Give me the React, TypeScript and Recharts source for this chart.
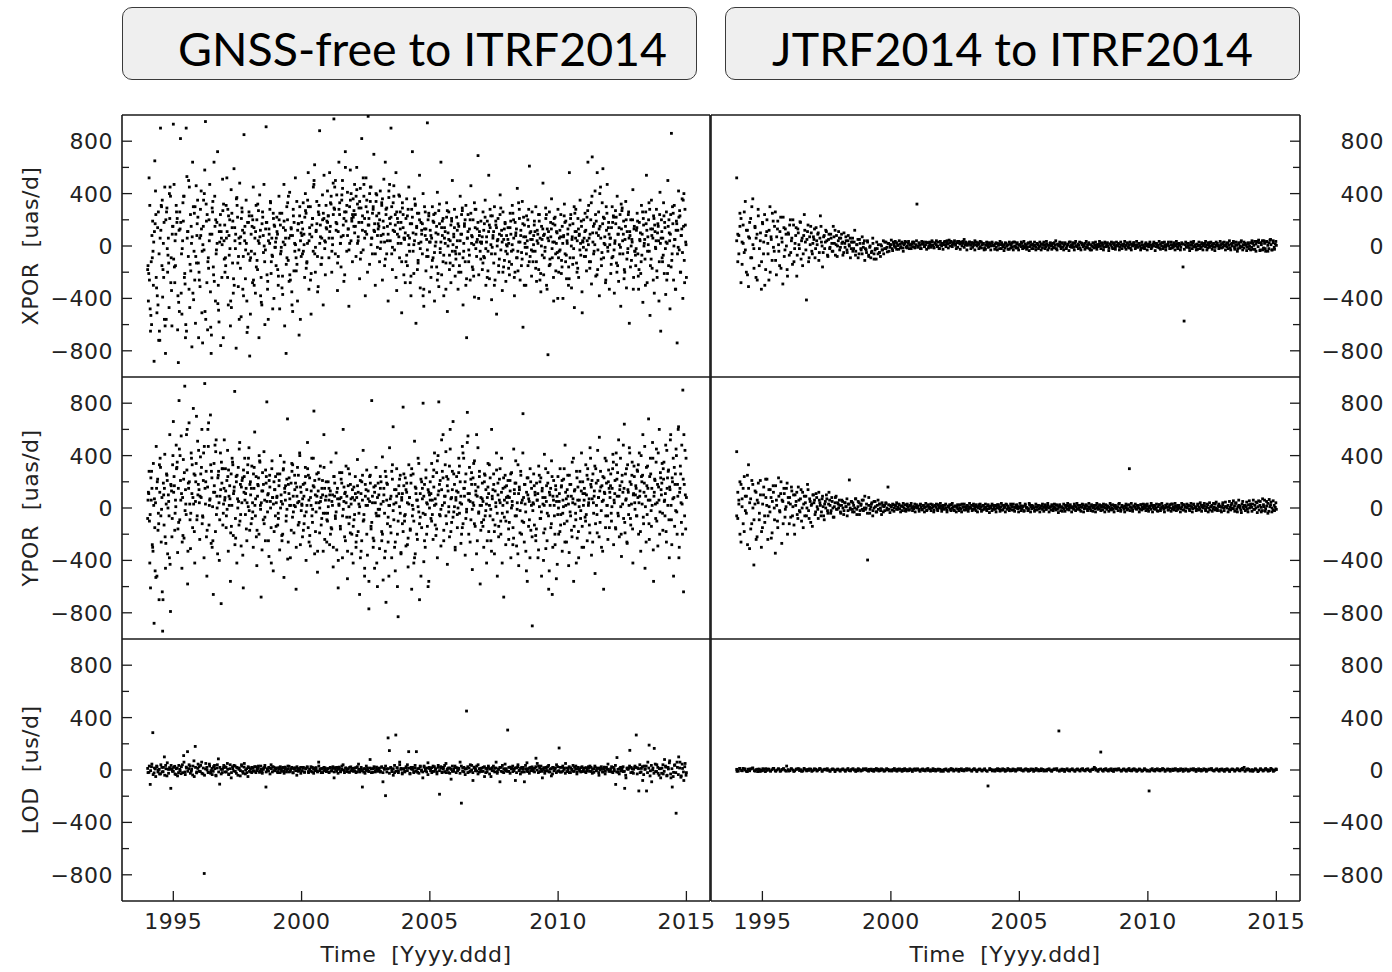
import { ScatterChart, Scatter, XAxis, YAxis, ReferenceLine } from 'recharts';

// each value list is sampled on evenly spaced epochs between the two dates of its span
const MAIN_SPAN: [number, number] = [1994.0, 2015.0];
const OFFSET_SPAN: [number, number] = [1994.014, 2014.986];
const EARLY_SPAN: [number, number] = [1994.0, 1998.5];
const LATE_SPAN: [number, number] = [1998.52, 2014.98];

const xTicks = [1995, 2000, 2005, 2010, 2015];
const yTicks = [-800, -600, -400, -200, 0, 200, 400, 600, 800];
const xDomain: [number, number] = [1993.0, 2015.92];
const yDomain: [number, number] = [-1000, 1000];

const panelTitles = ['GNSS-free to ITRF2014', 'JTRF2014 to ITRF2014'];
const rowLabels = ['XPOR  [uas/d]', 'YPOR  [uas/d]', 'LOD  [us/d]'];
const timeLabel = 'Time  [Yyyy.ddd]';

// GNSS-free to ITRF2014, XPOR rate [uas/d], one line per year
const gfXpor = [
  -180, -420, 520, 310, -650, -120, 80, 190, -300, -880, 650, 420, -240, -510, 140, 260, -60, -720, 900, 310, -150, -390, 20, 180, 450, -820, -560, 290, -200, 60, -470, 210, 380, -90, -610, 150,
  930, 470, -280, -150, 310, 180, -640, -890, 120, 260, 820, -360, -520, 40, 190, 380, -210, -700, 900, 530, 110, -80, -330, -470, 240, 150, -770, 640, 300, -40, -260, -590, 460, 80, 350, -130,
  -200, 60, 280, 420, -510, -740, 150, -30, 580, 950, 320, -280, -640, -90, 200, 470, -350, -820, 90, 260, -160, 640, 380, -420, -60, 180, 720, -300, -580, 30, 240, 110, -240, 510, -700, 40,
  160, -90, 310, 520, -240, -450, 80, 200, -610, 430, 250, -130, -360, 590, 140, -20, -780, 370, 220, -310, 60, 480, -170, -540, 290, 120, -80, 850, 40, -250, 350, -420, 180, -60, 260, -840,
  -520, 90, 230, -280, 450, 140, -60, -360, 310, 200, -180, 40, -700, 390, 120, -240, -450, 260, 80, 470, -120, -30, 910, 180, -330, -560, 130, 20, 340, -210, 60, -80, 250, -400, 150, -10,
  -150, 220, 90, -300, 380, -480, 160, -40, 250, -230, 30, 470, -610, 120, -820, 300, 200, -110, 60, 410, -260, 140, -350, 80, 280, -190, 20, 520, -90, 340, -420, 170, -30, 230, -560, 100,
  180, -60, 330, 90, -240, 400, 250, -130, 20, 560, -330, 140, 300, -520, 70, 210, -40, 470, 620, -200, 110, 340, -80, -310, 240, 880, 160, -140, 60, 390, -450, 210, 40, -220, 310, 130,
  420, 230, -90, 560, 150, 320, -200, 60, 480, 970, 280, -60, 180, 390, -340, 110, 640, 240, 20, -160, 350, 500, 80, -270, 260, 720, 190, -40, 410, 130, -460, 300, 580, 40, 210, -120,
  360, 150, 470, 240, -80, 600, 320, 40, 180, -250, 440, 290, 820, 120, -30, 380, 210, -380, 520, 90, 260, 990, 160, -140, 340, 450, 60, -60, 280, 700, 110, -300, 400, 230, -10, 170,
  250, -120, 420, 80, 330, -260, 190, 510, 30, 640, 280, -60, 150, -420, 370, 210, 40, 900, 300, -180, 120, 460, -30, 240, 560, -340, 90, 180, 390, -90, 260, 20, -510, 330, 140, -220,
  60, -280, 210, 360, -150, 80, 450, -40, 170, -380, 280, 720, 100, -210, 40, 320, -590, 150, 250, -110, 20, 540, -320, 180, 90, -60, 400, -460, 130, 260, -190, 50, 940, -80, 230, -350,
  120, -240, 60, 300, -90, 180, -420, 250, 30, -160, 410, 90, -310, 170, -50, 640, -220, 80, 210, -380, 140, 20, -130, 330, -500, 100, 260, -70, 40, -280, 190, 500, -150, 70, 280, -40,
  -100, 220, 40, -330, 150, -60, 380, -200, 90, 270, -450, 20, 170, -120, 310, -700, 60, 240, -30, 130, -260, 460, 80, -160, 200, 10, -390, 140, 280, -80, 50, 690, -220, 110, -40, 190,
  30, -180, 260, 120, -90, 350, -300, 70, 190, -40, 540, -250, 140, 10, -410, 230, 80, -130, 300, -60, 160, -520, 40, 210, -200, 90, 390, -30, 120, -340, 260, 50, -110, 170, -270, 80,
  -60, 140, 20, -220, 250, 90, -140, 310, -30, 60, -380, 180, 100, -90, 440, -190, 30, 210, -260, 120, -50, 340, -620, 70, 160, -10, -300, 230, 40, -150, 280, 610, -80, 110, -230, 50,
  -120, 80, 190, -40, 300, -270, 120, 20, -180, 240, 60, -350, 150, -70, 480, -220, 90, -10, 210, -300, 130, -830, 40, 260, -140, 70, 360, -90, 170, -420, 30, 220, -190, 110, -50, 280,
  -200, 60, -30, 240, -110, 150, -400, 80, 320, -60, 190, -250, 20, 130, -160, 560, -90, 240, -320, 70, 170, -20, -470, 110, 280, -130, 40, 210, -240, 90, 350, -70, 150, -510, 30, 200,
  -80, 250, 120, -190, 40, 640, 310, -120, 90, 200, -290, 680, 30, -60, 170, 420, -230, 100, 560, -30, 260, -380, 150, 60, -150, 330, 590, -90, 210, 10, -260, 120, 470, -40, 180, -330,
  60, -210, 140, 300, -80, 220, -360, 40, 170, -130, 380, 90, -270, 10, 240, -460, 130, 290, -60, 190, -180, 50, 340, -320, 110, -20, 260, -590, 80, 200, -110, 30, 430, -240, 150, -40,
  -150, 120, 250, -60, -330, 180, 40, -210, 310, 90, -430, 160, 20, -100, 260, 540, -280, 70, 200, -40, -530, 130, 350, -170, 60, 230, -360, 110, -20, 280, -240, 170, 40, -120, 410, -650,
  200, -90, 60, 330, -210, 140, -370, 260, 20, 500, -150, 100, -480, 240, 860, -60, 170, -260, 310, 50, -330, 190, -740, 120, 420, -30, 230, -200, 80, 360, -400, 150, -110, 280, 30, -240,
];

// GNSS-free to ITRF2014, XPOR rate [uas/d], the in-between epochs
const gfXporB = [
  -150, -210, -260, -480, -530, -600, -90, -40, 30, 110, 170, 240, -320, -380, -450, -720, -650, 60, 120, 300, 350, -180, -240, -560, -610, 200, 260, -20, -70, -130, 400, 450, -280, -340, 90, 150,
  -100, -160, 40, 90, 260, 210, -380, -430, -500, 130, 180, -60, -20, 330, 380, -240, -290, -600, -650, 60, 110, 500, 450, -140, -190, 20, 70, -360, -410, 250, 300, -80, -130, 170, 220, -700,
  -260, -310, 80, 130, -40, 10, 350, 400, -500, -560, 190, 240, -120, -170, 40, 90, -620, -680, 290, 340, -220, -270, 150, 200, -30, 20, -440, -490, 110, 160, -760, 60, 10, 270, 320, -100,
  -200, -150, 60, 110, 280, 230, -70, -20, -420, -470, 140, 190, -250, -300, 40, 90, 360, 310, -130, -80, -560, 20, 70, 210, 260, -330, -380, 100, 150, -30, 20, -660, -620, 180, 230, -110,
  -90, -40, 150, 200, -260, -300, 60, 110, -160, -110, 320, 270, 20, 70, -380, -430, 170, 220, -50, 0, -600, 130, 180, -220, -270, 40, 90, 280, 330, -120, -70, -480, 210, 160, -10, 30,
  60, 110, -180, -230, 200, 250, -60, -10, -320, -370, 140, 190, 10, 60, -140, -90, 330, 380, -270, -220, 80, 130, -450, -500, 230, 180, -40, 10, -190, -140, 120, 170, -680, 300, 40, -80,
  80, 130, -40, 10, 220, 270, -170, -120, 350, 300, 40, 90, -260, -210, 160, 210, 450, 500, -60, -10, 120, 170, -350, 260, 310, 20, 70, -140, -90, 200, 250, 540, -20, 30, 140, 190,
  180, 230, 60, 110, 330, 380, -40, 10, 240, 290, 450, 500, 120, 170, -130, -80, 280, 330, 20, 70, 390, 440, 160, 210, -220, 600, 260, 310, 80, 130, -30, 20, 350, 400, 190, 240,
  220, 270, 100, 150, 380, 430, 20, 70, 290, 340, -100, -50, 180, 230, 520, 470, 60, 110, 300, 350, -200, 160, 210, 400, 450, 10, 60, 250, 300, 120, 170, -60, 340, 390, 80, 130,
  150, 200, -20, 30, 310, 360, 90, 140, -150, -100, 240, 290, 40, 90, 420, 470, 170, 220, -60, -10, 330, 380, 110, 160, -240, 260, 210, 20, 70, 380, 130, 180, -120, 290, 240, 60,
  50, 100, -120, -70, 230, 280, 10, 60, -280, -230, 170, 220, -40, 10, 360, 310, 90, 140, -180, -130, 250, 200, -20, 30, 120, 170, -380, -330, 300, 80, 130, -80, -30, 200, 250, 30,
  30, 80, -160, -110, 190, 240, -50, 0, 100, 150, -260, -210, 270, 320, -20, 30, 140, 190, -120, -70, 60, 110, -330, 220, 270, 0, 50, -180, -130, 160, 210, -40, 10, 90, 140, -230,
  -60, -10, 120, 170, -200, -150, 40, 90, 240, 290, -90, -40, 150, 200, -300, -250, 60, 110, -120, -70, 200, 250, 20, 70, -180, -230, 330, 280, -20, 30, 130, 180, -400, 80, 30, -100,
  20, 70, -130, -80, 170, 220, -20, 30, -240, -190, 110, 160, 280, 230, -60, -10, 60, 110, -300, -260, 190, 140, 0, 50, -150, -100, 240, 290, 80, 30, -200, -160, 130, 180, -40, 10,
  0, 50, -170, -120, 140, 190, -40, 10, 250, 200, -240, -200, 80, 130, -90, -40, 330, 280, 30, 80, -150, -100, 170, 220, -300, 20, 70, -60, -10, 200, 150, -120, 100, 50, -30, 260,
  -40, 10, 160, 110, -170, -120, 40, 90, 240, 190, -260, -210, 0, 50, 130, 80, -90, -40, 290, 240, -330, 60, 110, -150, -100, 180, 130, -20, 30, -240, 210, 160, -60, 20, 100, -400,
  -90, -40, 120, 70, -210, -160, 20, 70, 230, 180, -120, -70, 40, 90, -300, -250, 160, 210, 0, 50, -140, -90, 300, 250, 60, 110, -200, -170, 130, 80, -30, 20, 190, -350, 40, -10,
  60, 110, -80, -30, 220, 270, 10, 60, -170, -120, 330, 380, 100, 150, -40, 10, 240, 190, -220, -180, 80, 130, 400, 450, -100, -50, 170, 220, 20, 70, -280, 300, 250, -10, 140, 90,
  10, 60, -140, -90, 180, 230, -30, 20, 270, 220, -200, -150, 90, 140, -60, -10, 320, 270, 40, 90, -250, -200, 150, 200, -100, -50, 240, 60, 110, -160, 0, 50, 200, -330, 130, -40,
  -70, -20, 140, 190, -230, -180, 50, 100, -120, -70, 260, 210, 0, 50, -300, 170, 120, -40, 10, 330, 280, -150, -100, 80, 130, -260, 210, 160, -10, 40, -190, 100, 150, -420, 240, 20,
  60, 110, -120, -70, 230, 180, -20, 30, -260, -210, 150, 200, 40, 90, -160, -110, 300, 250, 0, 50, -330, 120, 170, -60, -10, 220, 270, -200, 80, 130, -50, 350, 400, -280, 160, 10,
];

// GNSS-free to ITRF2014, YPOR rate [uas/d]
const gfYpor = [
  -80, 120, 280, -420, -610, 60, 150, -300, 340, -880, -150, 40, 470, -520, 220, -40, -700, 120, 310, -260, 80, -940, 190, -130, 410, -460, 30, 250, -350, 100, -60, 560, -790, 170, -220, 330,
  660, 240, -170, 60, 480, 310, -340, 150, 820, -90, 210, 550, -460, 80, 370, -230, 930, 140, -50, 290, -580, 190, 650, 30, -310, 420, 110, -150, 760, 260, -420, 50, 340, -90, 510, 180,
  140, -240, 390, 80, 600, -60, 210, -380, 950, 30, 280, -520, 160, 470, -130, 60, 710, -270, 230, 10, -660, 340, 120, -180, 520, 90, -350, 250, 40, -90, 420, -730, 190, 300, -40, 150,
  60, 300, -150, 210, 440, -330, 90, 170, -560, 260, 20, 350, -210, 130, 890, -80, 240, -420, 70, 310, -130, 500, 180, -290, 40, 230, -610, 120, 380, -50, 150, -250, 270, 10, 460, -170,
  200, -120, 320, 40, -300, 150, 580, -60, 240, -440, 90, 170, -200, 360, 20, -680, 130, 270, -90, 430, 60, -250, 190, 810, -30, 110, -370, 250, 50, -150, 300, 80, -480, 200, 140, -60,
  -140, 80, 260, -40, 170, -320, 400, 100, -210, 30, 290, -530, 150, 60, -100, 220, 680, -260, 110, 20, -380, 190, 340, -70, 90, -190, 250, 10, -620, 160, 310, -130, 50, 420, -280, 120,
  30, -220, 180, 90, -60, 310, -400, 140, 500, -150, 60, 230, -290, 20, 380, -110, 170, 740, -350, 100, -30, 260, -490, 130, 40, -190, 320, 80, -80, 210, -330, 560, 150, -40, 90, -260,
  -100, 200, 60, -280, 130, 350, -160, 20, -450, 240, 90, -60, 420, -320, 150, -610, 30, 270, -140, 80, 190, -380, 600, 50, -220, 120, 320, -70, -540, 170, 10, 260, -190, 70, -350, 140,
  -420, 160, -50, 240, -300, 80, 370, -180, 30, -660, 210, 110, -250, 60, 440, -90, -520, 180, 20, 290, -360, 130, -770, 50, 250, -140, 820, 90, -230, 160, -460, 40, 310, -60, -600, 190,
  100, -310, 240, 30, -180, 390, -550, 150, -40, 280, -720, 60, 180, -260, 20, 460, -140, 90, -380, 220, 620, -90, 140, -480, 40, 300, -200, -830, 110, 10, 250, -340, 80, -120, 770, 170,
  -60, 230, -290, 120, 40, -450, 330, 80, -170, 190, -620, 20, 260, -100, 510, -350, 150, 60, -240, 380, -30, -700, 110, 220, -150, 70, 800, -410, 180, -50, 290, -200, 30, 140, -560, 100,
  200, -80, 340, 60, -240, 160, 420, -130, 30, 270, -380, 100, 810, -50, 210, -290, 140, 20, 560, -170, 90, 330, -60, 240, -430, 130, 10, -220, 450, 70, -110, 280, 660, -30, 180, -320,
  60, 240, -150, 120, 380, -40, 200, -270, 30, 470, -120, 150, 90, -360, 260, -10, 730, 110, -200, 310, 50, -90, 180, -470, 230, 20, 360, -140, 100, 560, -250, 160, -30, 280, -580, 80,
  -110, 190, 50, -300, 260, -60, 140, -420, 80, 340, -180, 20, 230, -250, 600, 70, -90, 180, -350, 130, 10, 290, -520, 100, -140, 220, 40, -200, 380, -40, 150, -680, 60, 250, -100, 170,
  -30, 210, -240, 80, 130, -380, 270, 20, -150, 450, 110, -60, 190, -290, 40, 330, -440, 140, -20, 250, -200, 60, 720, -110, 180, 30, -330, 120, -560, 230, 70, -90, 300, -170, 150, -900,
  40, 260, -130, 100, -250, 190, 60, -380, 320, 10, -80, 230, -520, 150, 30, -190, 410, 80, -310, 170, -40, 270, -620, 120, 20, -150, 360, -660, 90, 210, -60, -280, 140, 50, -430, 240,
  -200, 110, 300, -50, 170, -330, 60, 220, -120, 480, 20, -260, 140, 90, -440, 250, -30, 180, -170, 350, 70, -560, 130, 30, -90, 280, -230, 160, -380, 60, 200, -20, 420, -140, 110, -300,
  150, -70, 330, 100, -250, 220, 40, -130, 460, 180, -360, 70, 260, -40, 130, -500, 300, 20, -190, 210, 80, 540, -110, 160, -300, 50, 240, -620, 120, 380, -60, 190, 20, -240, 290, -150,
  80, 260, -100, 150, 410, -280, 40, 210, -160, 330, 90, -40, 520, -220, 170, 10, -370, 250, 120, -80, 640, -190, 60, 300, -270, 140, -50, 460, 200, -130, 30, 350, -420, 110, 240, -10,
  170, -60, 290, 80, -200, 420, 130, -330, 240, 30, 560, -120, 190, -460, 90, 310, -50, 150, 680, -240, 60, 260, -140, 20, 380, -560, 120, 210, -80, 450, 40, -290, 160, 600, -30, 230,
  100, 340, -170, 220, 50, -60, 480, -260, 150, 20, 290, -380, 140, 560, -90, 230, 70, -520, 310, 180, -20, 400, -200, 90, 620, -300, 150, 260, -110, 30, 900, -640, 180, 440, -160, 80,
];

// GNSS-free to ITRF2014, YPOR rate [uas/d], the in-between epochs
const gfYporB = [
  60, 110, -100, -50, 230, 280, -280, -330, 20, 70, -480, -530, 150, 200, -170, -120, 330, 380, -60, -10, -640, -700, 100, 150, -220, -270, 260, 210, 0, 50, -380, -430, 180, 130, -80, 400,
  120, 170, -40, 10, 300, 350, -160, -110, 450, 400, 60, 110, -260, -210, 220, 270, -20, 30, 560, 600, -330, 150, 200, -90, -40, 380, 330, 80, 30, -180, 250, 200, 700, -60, 100, 440,
  40, 90, 260, 310, -120, -70, 420, 470, 150, 200, -220, -170, 600, 650, 20, 70, 330, 280, -300, -250, 120, 170, 480, 430, -50, 0, 230, 280, -400, 90, 140, 350, 300, -130, 30, 520,
  80, 130, -60, -10, 240, 290, 20, 70, -190, -140, 380, 330, 110, 160, -280, -230, 200, 250, 0, 50, 450, -100, -50, 160, 210, -360, 290, 240, 60, 110, -160, 40, 330, 380, -20, 180,
  100, 150, -80, -30, 260, 310, 20, 70, -220, -170, 180, 230, 400, 350, -10, 40, -320, 130, 180, -120, -70, 290, 240, 50, 100, -250, 210, 160, 0, -420, 360, 80, 30, -180, 140, 240,
  40, 90, -130, -80, 210, 260, 0, 50, -250, -200, 300, 350, 120, 170, -60, -10, -390, 180, 230, 70, 20, -170, 280, 330, -30, 20, 140, 190, -300, 90, 40, 250, -110, 400, 160, -20,
  20, 70, -170, -120, 190, 240, -30, 20, 300, 250, -260, -210, 80, 130, -60, -10, 380, 160, 210, -180, 40, 90, -330, 270, 220, 0, 50, -130, 150, 100, -40, 310, -240, 60, 200, -90,
  -40, 10, 150, 100, -200, -150, 50, 100, -300, 240, 190, -80, -30, 120, 70, -400, 20, 70, -160, 220, 270, -60, -10, 160, 110, -250, 40, 90, -330, 300, -120, -70, 180, 30, -200, 80,
  -140, -90, 60, 110, -260, -210, 170, 120, -40, 10, -380, -330, 200, 250, -100, -50, -460, 90, 140, -200, 20, 70, -560, 240, 190, -160, -110, 40, -300, -250, 120, 170, -40, -420, 80, -10,
  -60, -10, 150, 200, -250, -200, 50, 100, -380, -330, 240, 190, -120, -70, -520, 20, 70, -190, 280, 330, -20, 30, -300, -260, 140, 90, -600, -100, 170, 220, -40, -350, 60, 110, -180, 260,
  -100, -50, 140, 190, -280, -230, 30, 80, -160, 250, 300, -60, -10, -420, -380, 160, 110, -200, 60, 10, 340, -120, -70, -520, 200, 150, -40, 90, -250, -300, 230, 40, -140, -600, 120, 0,
  60, 110, -100, -50, 240, 290, 20, 70, -210, -160, 360, 400, 130, 180, -60, -10, 520, 280, 230, -250, 40, 90, 430, -120, 170, 220, -30, 320, 600, -180, 80, 140, -70, 260, 10, -300,
  80, 130, -50, 0, 270, 320, 40, 90, -200, -150, 420, 380, 150, 200, -80, -30, 500, 550, 60, 110, -260, 220, 270, -10, 40, 340, -120, 180, 130, -350, 90, 460, -40, 240, 20, -170,
  20, 70, -140, -90, 200, 250, -20, 30, -250, 160, 110, 330, -60, -10, -330, 90, 140, 260, -180, -130, 40, 420, -40, 190, -220, 60, 300, -100, 120, -420, 20, 230, -70, 160, -280, 80,
  40, 90, -160, -110, 210, 260, 0, 50, -280, -230, 140, 190, 360, -60, -10, -350, 110, 160, -190, 280, 40, -100, 420, 80, -260, 180, -30, -480, 230, 100, -140, 50, -380, 200, 20, -220,
  -20, 30, 170, 120, -210, -160, 60, 110, -320, 250, 200, -80, -30, 130, 80, -400, 20, -160, 300, 50, -250, 190, -60, -480, 100, 150, -120, 240, -300, 60, 20, -200, 170, -540, 90, -50,
  0, 50, -180, -130, 160, 210, -40, 10, 300, -260, 120, 70, -100, 250, 30, -340, 180, -60, 90, -220, 40, 380, -140, 140, -40, -420, 230, 60, -180, 10, 280, -80, 130, -300, 200, 20,
  60, 110, -100, -50, 250, 300, 20, 70, -190, 380, 160, 210, -260, 40, 90, 320, -120, 190, -50, 440, 80, -220, 130, 280, -20, 170, -330, 60, 230, 110, -150, 360, 20, -60, 200, 150,
  120, 170, -40, 10, 300, 350, 60, 110, -150, 420, 220, 270, -60, 90, 140, 380, -200, 200, 30, 480, 150, -110, 260, 70, -260, 330, 120, 20, 420, -80, 180, 250, -160, 100, 320, 40,
  100, 150, -60, 280, 330, 40, 90, -180, 400, 200, 250, -70, 120, 470, 10, -260, 170, 320, 60, -120, 240, 380, -20, 150, 500, -320, 90, 220, 30, 350, -100, 180, 420, 60, -200, 270,
  140, 190, -40, 300, 350, 60, 110, -180, 440, 230, 280, -90, 160, 520, 20, -280, 200, 380, 80, -140, 260, 450, -30, 180, 600, -380, 120, 320, 40, 480, -200, 220, 560, -60, 100, 380,
];

// GNSS-free to ITRF2014, LOD rate [us/d]
const gfLod = [
  12, -18, -110, 25, 285, -22, 8, 30, -15, 5, -30, 20, -12, 100, 35, -45, 5, 18, -140, 10,
  -10, 28, -35, 15, -20, 5, -28, 40, 110, -15, 22, 140, 10, 30, -8, -38, 70, 180, -22, 12,
  25, -12, 60, -30, -790, 8, 20, -18, 45, -25, 12, -10, 35, -40, 15, 85, -108, 5, -20, 18,
  -15, 20, 50, -35, 10, -60, 25, -8, 30, -25, 15, 5, -45, 40, -12, 22, -30, 10, -50, 18,
  8, -20, 15, -10, 25, -5, 12, -18, 30, -12, 5, 20, -130, 10, -8, 15, 40, -15, 22, -6,
  10, -12, 18, -20, 5, 15, -8, 22, -15, 8, 28, -10, 12, -22, 6, 16, -40, 10, -5, 20,
  -8, 14, -18, 10, 20, -12, 6, 25, -15, 10, -5, 18, -10, 60, 8, -20, 12, -6, 16, -12,
  10, -15, 20, -8, 12, -60, 18, -10, 6, 22, -14, 8, 40, -5, 15, -12, 10, -18, 24, -6,
  12, -8, 18, -14, 45, -10, 6, -130, -16, 10, -4, 15, -12, 80, 8, -18, 14, -6, 22, -10,
  5, -16, 20, -90, 12, -196, 8, 245, 148, 15, -12, 10, -20, 267, 18, -6, 60, 12, -22, 8,
  -10, 15, 40, 140, -25, 8, 20, -12, 14, 140, -18, 10, 30, -8, -60, 22, 6, -14, 55, 12,
  -6, 18, -10, 25, 10, -15, 35, -185, 14, -20, 20, -12, 50, 8, -20, 15, -70, -10, 6, 30,
  18, -5, 12, 60, -253, 15, -14, 8, 450, -20, 15, -10, 35, -80, 22, 10, -8, 40, -16, 12,
  -10, 20, -50, 12, -15, 30, 8, -50, 18, -6, 14, 60, -12, 8, -90, 20, -14, 10, 45, -8,
  305, -10, 22, 15, -12, 8, -80, 18, 40, -6, 12, -16, 20, -90, 10, 55, -12, 16, -5, 24,
  -8, 14, 90, 50, 30, -12, 6, -60, 18, -10, 12, 25, -14, 8, -45, 20, -6, 16, 40, -10,
  168, -16, 20, -8, 14, 50, -12, 8, -20, 16, 6, -10, 22, 30, -14, 10, -6, 18, -12, 12,
  -12, 18, -8, 14, 30, -10, 6, -18, 20, -6, 12, -40, 16, 8, -14, 22, -10, 10, 45, -6,
  8, -14, 20, -6, -110, 95, -18, 10, -8, 16, -12, -140, -60, 8, 14, 150, 20, -16, 6, 30,
  267, 16, -160, -20, 12, -80, 30, 8, -160, 60, 190, -6, -90, 15, 165, -12, 40, -25, 10, -60,
  14, -30, 80, 22, -40, 8, 70, -60, -130, -18, 40, -330, 20, 100, 60, -45, 12, -80, 50, -20,
];

// GNSS-free to ITRF2014, LOD rate [us/d], the in-between epochs
const gfLodB = [
  -20, 30, -5, 45, -35, 15, -50, 25, 0, -30, 40, -15, 20, -40, 10, 55, -25, 5, 35, -10,
  20, -30, 10, -45, 35, -5, 25, -20, 60, -35, 15, -10, 40, -25, 5, 30, -50, 20, -15, 45,
  -10, 35, -25, 15, -40, 50, 0, -20, 30, -5, -35, 25, 10, -45, 40, -15, 20, -30, 5, 35,
  25, -15, 5, -30, 40, -20, 10, 35, -10, 20, -40, 15, -5, 30, -25, 50, 0, -20, 25, -10,
  -15, 20, -5, 25, -20, 10, 30, -10, 5, -25, 15, 35, -15, 0, 20, -30, 10, 25, -5, 15,
  15, -20, 5, 25, -10, 20, -25, 10, 0, 30, -15, 5, 20, -20, 15, -5, 25, -10, 10, -25,
  -5, 20, -15, 10, 25, -20, 5, -10, 20, -25, 15, 0, -15, 30, -5, 10, -20, 20, 5, -10,
  10, -20, 15, -5, 25, -15, 5, 20, -25, 10, -10, 30, 0, -20, 15, 5, -15, 20, -5, 10,
  -10, 15, -20, 25, 5, -15, 20, -5, 10, -25, 30, 0, -10, 15, -20, 10, 25, -15, 5, -5,
  15, -10, 25, -20, 5, 30, -15, 10, -25, 20, 0, -40, 35, -10, 15, -20, 40, 5, -30, 10,
  -15, 25, -5, 15, -30, 20, 5, -20, 35, -10, 10, -25, 25, 0, -15, 30, -5, 15, -35, 20,
  10, -20, 30, -10, 5, -30, 20, -5, 25, -15, 10, 35, -20, 0, 15, -25, 5, 30, -10, 20,
  -20, 15, 5, -25, 30, -10, 20, -35, 10, 25, -15, 40, 0, -20, 15, -5, 30, -30, 10, -10,
  15, -10, 25, -20, 5, 20, -30, 10, -5, 30, -15, 15, -25, 5, 20, -10, 35, -20, 0, 10,
  -10, 20, -25, 10, 30, -5, 15, -20, 25, 0, -30, 20, 5, -15, 35, -10, 10, -25, 20, 5,
  10, -15, 25, 0, -20, 15, 30, -10, 5, -25, 20, -5, 35, -15, 10, -30, 15, 5, -20, 25,
  -5, 20, -15, 30, 5, -25, 15, -10, 25, -20, 0, 35, -10, 10, -30, 20, 5, -15, 25, -5,
  15, -20, 5, 25, -10, 20, -25, 10, 30, -5, 15, -20, 0, 25, -15, 10, -30, 20, 5, -10,
  -10, 25, -20, 10, 35, -15, 5, -30, 20, 0, 25, -10, -40, 15, 5, 30, -20, 10, -25, 20,
  20, -30, 10, 40, -15, 25, -35, 5, 30, -20, 15, -45, 35, 0, -25, 45, -10, 20, -40, 10,
  -25, 40, -10, 30, -45, 20, 55, -30, 10, -50, 35, -20, 60, -35, 15, -55, 45, -15, 25, -40,
];

// JTRF2014 to ITRF2014, XPOR rate [uas/d]
const jtXpor = [
  520, -120, 80, 250, -280, 30, 160, -50, 340, -200, 120, -310, 60, 210, -90, 360, -20, 150, -240, 90, 280, -150, 40, -330,
  180, -60, 240, -180, 110, 20, -260, 300, 70, -110, 190, -40, 260, -220, 130, 10, -150, 220, 60, -290, 140, -30, 90, -180,
  100, -70, 200, 40, -140, 160, -20, 80, -230, 130, 10, 185, -100, 60, -60, 240, 30, -412, 110, -120, 70, 150, -40, 20,
  50, -90, 140, 10, 100, -50, 230, 30, -160, 70, -20, 120, 40, -80, 90, -10, 60, -40, 150, 20, -70, 80, 0, 110,
  -30, 60, 20, -70, 100, -10, 40, -50, 80, 0, -90, 30, 60, -20, 120, -40, 10, 50, -60, 20, -30, 70, -10, 40,
  -20, -50, 30, -70, -10, -90, -40, 20, -60, -30, -100, -20, 10, -50, -80, 0, -30, -60, 30, -20, -10, 20, -40, 10,
  10, -20, 30, 0, -10, 25, 5, -25, 15, -5, 20, -15, 10, 35, -10, 0, 20, -20, 5, 15, -5, 30, -15, 10,
  320, -10, 20, 5, -20, 15, 30, -5, 10, -25, 25, 0, 15, -10, 40, 5, -15, 20, 10, -5, 30, -20, 10, 0,
  20, 10, 35, -5, 25, 15, 45, 0, 30, 10, 20, 40, 5, 25, -10, 35, 15, 30, 0, 20, 50, 10, 25, 5,
  15, 30, 5, 25, -10, 20, 40, 10, 0, 25, 15, -5, 30, 10, 20, -15, 5, 25, 10, -5, 15, 0, 20, 5,
  0, 15, -10, 20, 5, -20, 10, 25, -5, 5, -15, 20, 0, 10, -25, 15, 5, -10, 30, 0, -5, 15, -15, 5,
  10, -5, 20, 0, -15, 15, 5, -10, 25, -5, 10, -20, 15, 0, 5, -10, 20, 10, -5, 0, 15, -15, 5, 10,
  -5, 15, 5, -15, 20, 0, 10, -10, 25, 5, -20, 15, 0, 10, -5, 20, -10, 5, 15, -15, 0, 10, 30, -5,
  5, 10, -10, 20, 0, -5, 15, 5, -15, 25, 10, -5, 0, 20, -10, 5, 15, -20, 10, 0, -5, 20, 5, -10,
  10, -5, 15, 0, 25, 5, -10, 20, -5, 10, 0, -15, 15, 5, -10, 20, 10, -5, 30, 0, 15, -10, 5, 10,
  0, 15, -10, 5, 20, -5, 10, -15, 15, 0, 25, 5, -10, 10, -5, 20, 0, -15, 10, 5, -5, 15, 0, 10,
  -5, 10, 5, -10, 15, 0, 20, -5, 10, 5, -15, 15, 0, 25, -5, 10, -10, 5, 15, 0, -20, 10, 5, -5,
  10, 0, 15, -5, 20, 5, -10, 15, -160, -573, 10, -5, 20, 0, -15, 10, 5, 25, -5, 10, -10, 15, 0, 5,
  5, -10, 15, 0, 20, -5, 10, -15, 5, 25, 0, 10, -5, 15, -10, 5, 20, 0, -5, 10, 15, -10, 5, 0,
  10, -5, 20, 5, -15, 15, 0, 25, -10, 10, 5, -20, 15, 0, 30, -5, 10, -15, 20, 5, -10, 15, 0, 25,
  -10, 20, 5, -25, 15, 35, -5, 25, -30, 10, 40, -15, 20, -40, 30, 5, -20, 45, 10, -30, 25, -10, 15, 5,
];

// JTRF2014 to ITRF2014, XPOR rate [uas/d], extra epochs of the early years
const jtXporEarly = [
  40, 90, -60, 150, 210, -140, 20, 260, -30, 120, -220, 70, 180, -90, 300, 10, -170, 140, 60, -260, 230, -20, 100, -120, 170, 30, -300,
  80, 200, -60, 120, -200, 50, 250, -10, 150, -110, 70, 190, -40, 110, -170, 30, 220, -80, 130, 0, -230, 90, 160, -50, 60, 200, -120,
  20, 140, -70, 100, -20, 180, 40, -150, 80, 120, -30, 50, 160, -90, 10, 100, -60, 70, 130, -20, 40, 90, -110, 60, 150, 0, -50,
  80, 30, 110, -70, 50, -20, 90, 20, -40, 70, 120, 10, -80, 40, 60, -10, 90, 30, -50, 20, 70, -30, 40, 10, 60, -20, 30,
];

// JTRF2014 to ITRF2014, XPOR rate [uas/d], extra epochs of the later years
const jtXporLate = [
  -40, 30, -70, 10, -90, 50, -20, -60, 20, -110, -30, 40, -80, 0, -50, 60, -100, -20, 30, -60,
  -50, 10, -30, 40, -20, 30, -45, 20, -10, 45, -35, 15, 35, -25, 5, 40, -15, 30, -40, 20,
  30, -15, 35, 10, -20, 30, 20, -10, 40, 0, 25, -20, 35, 15, -5, 30, 25, -15, 30, 5,
  30, -10, 25, 40, 0, -20, 35, 20, -25, 30, 10, 40, -15, 25, 35, -5, 25, 15, -20, 35,
  25, -25, 20, 35, -10, 30, -30, 15, 30, -20, 25, 5, -30, 30, 10, -20, 35, -15, 20, -30,
  -25, 30, -10, 25, -30, 30, 5, -25, 25, -30, 15, 35, -20, 10, -35, 25, 0, -25, 30, -15,
  25, -30, 30, -15, 25, -30, 10, 30, -20, 35, -5, -25, 20, -35, 30, 5, -20, 30, -30, 15,
  -20, 30, -30, 15, 30, -20, 35, -30, 5, 25, -25, 20, -15, 40, -30, 10, 30, -20, 25, -30,
  25, -20, 15, -35, 30, -10, 25, -30, 35, 0, -20, 30, -30, 20, 10, -25, 35, -15, 25, -30,
  -30, 25, -15, 30, -25, 10, 35, -20, 20, -30, 30, -5, 25, -35, 15, 30, -20, 25, -25, 5,
  20, -30, 30, -20, 10, 35, -25, 25, -15, 30, -30, 5, 25, -20, 35, -10, 20, -30, 30, -15,
  -20, 25, -30, 15, 30, -20, 5, 30, -35, 20, -10, 35, -25, 25, -20, 30, -30, 10, 30, -20,
  30, -15, 25, -30, 35, -20, 10, -30, 25, 15, -25, 30, -10, 20, -35, 30, -20, 35, 0, -30,
  -25, 30, -20, 25, -30, 15, 35, -30, 25, -10, 30, -25, 20, -35, 30, 5, -20, 35, -15, 25,
  30, -30, 25, -20, 40, -30, 20, 35, -25, 30, -40, 25, -15, 40, -30, 30, 10, -35, 25, -20,
  -30, 40, -25, 35, -40, 30, 45, -35, 25, -30, 40, -20, 35, -40, 25, 50, -30, 40, -25, 35,
];

// JTRF2014 to ITRF2014, YPOR rate [uas/d]
const jtYpor = [
  430, -80, 60, 200, -260, 10, 150, -180, 90, -40, 250, 330, -310, 70, -120, 180, -435, 30, 120, -220, 40, -90, 210, -300,
  -150, 100, -60, 220, 20, -240, 140, -30, 80, -190, 170, 0, -345, 60, -100, 230, -20, 110, -270, 50, 150, -70, 10, 190,
  80, -120, 30, 160, -60, 100, -200, 20, 120, -80, 60, -30, 140, 0, -150, 90, 40, -60, 180, -20, 70, -110, 30, 100,
  40, -50, 110, 10, -80, 60, 20, -30, 90, -60, 30, 0, 70, -40, 120, 20, -20, 50, -70, 10, 80, -10, 40, 0,
  20, -40, 60, 0, -20, 40, 10, -60, 30, 214, -10, 50, -30, 20, 0, 70, -50, 10, 40, -20, 30, -10, 60, 0,
  -10, 30, -397, 20, -40, 10, 40, -20, 0, 50, -30, 20, -10, 30, 0, -50, 20, 10, -20, 40, 0, 160, -10, 20,
  10, -15, 25, 0, 20, -10, 5, 30, -5, 15, -20, 10, 0, 25, -10, 15, 5, -15, 20, 0, 10, -5, 30, 5,
  0, 15, -10, 25, 5, -15, 20, 0, 10, -20, 15, 5, -5, 30, 0, 10, -15, 20, 5, -10, 25, 0, 15, -5,
  10, -5, 20, 0, -15, 15, 5, -10, 25, 0, 10, -20, 15, 5, -5, 20, 0, -10, 30, 5, -15, 10, 0, 15,
  -5, 10, 0, 20, -10, 15, 5, -20, 10, 0, 25, -5, 10, -15, 20, 0, 5, -10, 15, -5, 10, 0, -20, 20,
  5, -10, 15, 0, 25, -5, 10, -15, 20, 0, 5, 30, -10, 15, 0, -5, 20, 10, -15, 5, 0, 25, -5, 10,
  0, 15, -5, 10, -20, 20, 5, 0, -10, 25, 10, -5, 15, 0, -15, 10, 5, 20, -5, 0, 15, -10, 10, 5,
  -10, 10, 20, 0, 5, -15, 15, -5, 10, 0, 25, -10, 5, 15, -20, 10, 0, -5, 20, 5, -10, 15, 0, 10,
  5, 0, -10, 15, 10, -5, 20, 0, -15, 10, 5, 25, -5, 0, 15, -10, 10, 5, -20, 15, 0, 10, -5, 20,
  0, 10, -5, 20, 5, -15, 10, 0, 25, -10, 15, 5, -5, 20, 0, -10, 15, 5, -5, 10, 30, 0, -15, 10,
  5, -10, 15, 0, 20, -5, 300, 10, 0, -15, 15, 5, -5, 20, 10, 0, -10, 25, 5, -5, 10, 0, 15, -10,
  10, 0, -10, 20, 5, -5, 15, 0, -20, 10, 25, -5, 5, 15, -10, 0, 20, 5, -15, 10, 0, 30, -5, 10,
  0, 15, 5, -10, 20, 0, -5, 10, 25, -15, 5, 10, 0, 20, -10, 15, 5, -5, 30, 0, 10, -10, 20, 5,
  -5, 20, 10, 0, 15, -10, 5, 25, 0, -15, 10, 20, -5, 5, 30, 0, -10, 15, 10, -20, 5, 25, 0, 10,
  10, 0, 20, -10, 5, 25, 0, -5, 15, 35, -10, 10, 20, 0, -15, 30, 5, -5, 20, 10, -10, 25, 0, 15,
  5, 30, -10, 20, 0, 40, 10, -15, 50, 5, -20, 25, 60, -5, 15, 35, -25, 10, 45, 0, -15, 20, 5, -10,
];

// JTRF2014 to ITRF2014, YPOR rate [uas/d], extra epochs of the early years
const jtYporEarly = [
  -60, 120, 30, -200, 180, 70, -120, 240, -20, 90, -280, 150, 40, -160, 210, 0, -90, 130, -240, 60, 190, -40, 100, -180, 30, 160, -110,
  80, 220, -60, 10, 140, -230, 50, 120, -90, 170, 20, -150, 90, -30, 200, 60, -120, 110, -10, 150, -200, 40, 80, -70, 130, 10, -130,
  100, 50, -50, 160, -20, 70, -100, 120, 30, -60, 90, 0, 140, -80, 50, 20, -140, 100, 60, -30, 80, -10, 120, 40, -60, 70, 10, -90,
  50, 100, -20, 30, 60, -40, 80, 0, -70, 40, 90, -10, 30, 60, -30, 20, 50, -50, 40, 10, 70, -20, 30, 0, 50, -10,
];

// JTRF2014 to ITRF2014, YPOR rate [uas/d], extra epochs of the later years
const jtYporLate = [
  40, -30, 70, -10, 50, -50, 20, 60, -20, 90, 0, -40, 80, -10, 30, -60, 50, 10, -30, 60,
  30, -20, 40, -30, 20, 35, -15, 25, -35, 10, 30, -25, 20, 40, -10, 25, -30, 15, 35, -20,
  -25, 30, -15, 20, 35, -20, 10, -30, 25, 5, -25, 30, -10, 20, -30, 35, -15, 25, 5, -20,
  25, -30, 15, 30, -20, 5, 35, -25, 20, -10, 30, -30, 10, 25, -20, 35, -15, 15, -30, 25,
  -20, 25, -30, 10, 30, -15, 20, -25, 35, 0, -20, 30, -10, 25, -30, 15, 30, -25, 20, -10,
  30, -20, 25, -35, 15, 30, -10, 20, -30, 25, 5, -25, 35, -15, 20, -30, 25, 10, -20, 30,
  -15, 30, -25, 20, 10, -30, 35, -20, 15, -25, 30, 0, -20, 35, -30, 20, 10, -25, 30, -15,
  20, -30, 15, 30, -25, 25, -10, 35, -30, 10, 25, -20, 30, -15, 20, -35, 25, 5, -25, 30,
  -25, 20, 35, -15, 25, -30, 10, 30, -20, 35, -10, 20, -25, 30, -30, 15, 25, -20, 35, -5,
  25, -25, 20, -30, 35, -10, 25, -20, 15, 30, -30, 20, 10, -25, 35, -15, 25, -30, 20, 5,
  -20, 35, -25, 20, 10, -30, 30, -15, 25, -20, 35, -25, 15, 30, -10, 20, -30, 25, -15, 30,
  25, -20, 30, -25, 15, 35, -30, 20, -10, 30, -25, 25, -20, 35, 5, -30, 20, 30, -15, 25,
  -25, 30, -15, 35, -20, 20, 10, -30, 35, -15, 25, -25, 30, 15, -20, 35, -30, 25, 5, -20,
  30, -15, 40, -25, 20, 35, -20, 30, -30, 40, 10, -25, 35, -15, 45, -20, 30, 15, -30, 40,
  -20, 45, 10, -30, 50, -15, 35, 55, -25, 40, -30, 60, 15, -35, 50, 20, -20, 45, -30, 55,
  30, -25, 60, -10, 45, -35, 55, 20, -30, 70, 10, -25, 50, -40, 65, 25, -30, 55, -20, 40,
];

// JTRF2014 to ITRF2014, LOD rate [us/d]
const jtLod = [
  5, -8, 10, -4, 12, 0, -10, 6, -6, 8, 15, -5, 3, -12, 7, 0,
  -6, 4, 10, -3, 6, -8, 2, 12, -5, 0, 8, -10, 4, 6, -2, 30,
  3, -5, 8, 0, -6, 5, 10, -4, 2, -8, 6, 0, 4, -3, 7, -5,
  0, 6, -4, 3, 8, -6, 2, 5, -2, 0, -8, 4, 6, -3, 1, 5,
  -4, 2, 6, -2, 0, 5, -5, 3, 7, -1, 2, -6, 4, 0, -3, 5,
  2, -3, 5, 0, -5, 4, 1, -2, 6, -4, 0, 3, -6, 2, 5, -1,
  0, 4, -3, 2, 6, -2, 0, 5, -4, 1, 3, -5, 2, 0, 6, -3,
  3, -1, 0, 5, -4, 2, 6, -3, 1, 0, -5, 4, 2, -2, 5, 0,
  -2, 4, 1, -5, 3, 0, 6, -3, 2, -1, 5, 0, -4, 3, 1, -2,
  4, 0, -3, 5, 2, -4, 1, 6, -2, 0, 3, -5, -122, 2, 4, -1,
  0, 3, -4, 6, 1, -2, 5, 0, -3, 4, 2, -5, 0, 3, -1, 5,
  2, -3, 0, 5, -1, 4, -4, 2, 6, 0, -2, 3, 1, -5, 4, 0,
  -1, 5, 2, -4, 0, 3, 6, -2, 298, 1, -3, 4, 0, 5, -4, 2,
  3, 0, -5, 4, 1, -2, 6, 0, -3, 5, 2, -4, 1, 3, 20, -1,
  0, 4, 137, -3, 5, 1, -2, 3, 0, -5, 6, 2, -1, 4, 0, -3,
  5, -2, 1, 3, -4, 0, 6, -1, 2, -3, 4, 0, -5, 3, 1, -2,
  -160, 3, 0, -4, 5, 1, -2, 4, 0, 6, -3, 2, -1, 5, 0, -4,
  2, 0, 4, -3, 1, 6, -2, 0, 3, -5, 5, 1, -1, 4, 0, -3,
  4, -2, 0, 5, -3, 2, 6, 0, -4, 1, 3, -2, 5, 0, -1, 4,
  0, 3, -4, 2, 5, -1, 0, 4, -3, 6, 1, 20, 2, 0, 5, -4,
  3, -2, 6, 0, -5, 4, 1, -3, 5, 0, 2, -4, 6, 1, -2, 3,
];

// JTRF2014 to ITRF2014, LOD rate [us/d], the in-between epochs
const jtLodB = [
  -10, 12, -6, 9, -12, 8, 14, -9, 6, -11,
  10, -12, 7, -8, 12, -10, 9, -6, 11, -9,
  -8, 10, -11, 7, 9, -10, 12, -7, 8, -10,
  9, -8, 11, -10, 6, 10, -9, 8, -12, 7,
  -9, 8, -10, 11, -7, 9, -11, 10, -8, 9,
  10, -9, 7, -10, 11, -8, 9, -9, 10, -7,
  -8, 11, -9, 8, -10, 10, -7, 9, -11, 8,
  9, -10, 8, -7, 11, -9, 10, -8, 7, -10,
  -10, 8, -9, 11, -8, 7, -10, 9, -7, 10,
  8, -9, 10, -11, 7, -8, 9, -10, 11, -7,
  -9, 10, -8, 9, -10, 11, -7, 8, -9, 10,
  10, -8, 9, -9, 8, -10, 11, -7, 9, -8,
  -7, 9, -10, 8, 10, -9, 7, -11, 9, -8,
  9, -10, 8, -8, 10, -7, 9, -10, 8, 11,
  -10, 8, -9, 10, -8, 9, -11, 7, 10, -9,
  8, -9, 11, -7, 9, -10, 8, -9, 10, -8,
  -9, 10, -8, 9, -7, 11, -10, 8, -9, 7,
  10, -8, 9, -10, 8, -9, 7, 10, -11, 9,
  -8, 9, -10, 7, 11, -8, 9, -9, 8, -10,
  9, -11, 8, -9, 10, -7, 12, -10, 9, -8,
  -10, 9, -12, 10, -8, 11, -9, 12, -10, 8,
];

type Series = { values: number[]; span: [number, number] };

// rows: XPOR, YPOR, LOD; columns: GNSS-free, JTRF2014
const panels: Series[][][] = [
  [
    [{ values: gfXpor, span: MAIN_SPAN }, { values: gfXporB, span: OFFSET_SPAN }],
    [
      { values: jtXpor, span: MAIN_SPAN },
      { values: jtXporEarly, span: EARLY_SPAN },
      { values: jtXporLate, span: LATE_SPAN },
    ],
  ],
  [
    [{ values: gfYpor, span: MAIN_SPAN }, { values: gfYporB, span: OFFSET_SPAN }],
    [
      { values: jtYpor, span: MAIN_SPAN },
      { values: jtYporEarly, span: EARLY_SPAN },
      { values: jtYporLate, span: LATE_SPAN },
    ],
  ],
  [
    [{ values: gfLod, span: MAIN_SPAN }, { values: gfLodB, span: OFFSET_SPAN }],
    [{ values: jtLod, span: MAIN_SPAN }, { values: jtLodB, span: OFFSET_SPAN }],
  ],
];

const FRAME = '#1a1a1a';
const INK = '#222';
const FONT = '"DejaVu Sans", sans-serif';
const ROW_TOP = [115, 377, 639];
const ROW_H = 262;

function toPoints({ values, span }: Series) {
  const n = values.length;
  return values.map((v, i) => ({ t: span[0] + ((span[1] - span[0]) * i) / (n - 1), v }));
}

const fmt = (v: number) => (v < 0 ? '\u2212' + Math.abs(v) : String(v));

function Dot(props: any) {
  const { cx, cy } = props;
  if (cx == null || cy == null) return null;
  return <rect x={cx - 1.4} y={cy - 1.4} width={2.8} height={2.8} fill="#000" />;
}

function YTick({ x, y, payload, side }: any) {
  const v = payload.value;
  const major = v % 400 === 0;
  const dir = side === 'left' ? 1 : -1;
  return (
    <g>
      <line x1={x} y1={y} x2={x + dir * (major ? 10 : 7)} y2={y} stroke={FRAME} strokeWidth={1.3} />
      {major && (
        <text x={side === 'left' ? x - 9 : x + 84} y={y} dy="0.36em" textAnchor="end" fontSize={22} letterSpacing={0.5} fontFamily={FONT} fill={INK}>
          {fmt(v)}
        </text>
      )}
    </g>
  );
}

function XTick({ x, y, payload, showLabel }: any) {
  return (
    <g>
      <line x1={x} y1={y} x2={x} y2={y - 10} stroke={FRAME} strokeWidth={1.3} />
      {showLabel && (
        <text x={x} y={y + 28} textAnchor="middle" fontSize={22} letterSpacing={0.5} fontFamily={FONT} fill={INK}>
          {payload.value}
        </text>
      )}
    </g>
  );
}

function Panel({ series, col, row }: { series: Series[]; col: number; row: number }) {
  const isLeft = col === 0;
  const bottom = row === 2;
  const pad = 4;
  const plotX = isLeft ? 122 : 711;
  const plotW = isLeft ? 588 : 589;
  const axisW = isLeft ? 122 : 92;
  const xAxisH = bottom ? 71 : 0;
  const width = axisW + plotW + pad;
  const height = pad + ROW_H + (bottom ? xAxisH : pad);
  const left = isLeft ? plotX - axisW : plotX - pad;
  const side = isLeft ? 'left' : 'right';
  return (
    <div style={{ position: 'absolute', left, top: ROW_TOP[row] - pad }}>
      <ScatterChart
        width={width}
        height={height}
        margin={{ top: pad, right: isLeft ? pad : 0, left: isLeft ? 0 : pad, bottom: bottom ? 0 : pad }}
      >
        <XAxis
          type="number"
          dataKey="t"
          domain={xDomain}
          ticks={xTicks}
          interval={0}
          allowDataOverflow
          height={xAxisH}
          tickSize={0}
          tickMargin={0}
          tickLine={false}
          axisLine={{ stroke: FRAME, strokeWidth: 1.6 }}
          tick={(p: any) => <XTick {...p} showLabel={bottom} />}
        />
        <YAxis
          type="number"
          dataKey="v"
          orientation={side}
          width={axisW}
          domain={yDomain}
          ticks={yTicks}
          interval={0}
          allowDataOverflow
          tickSize={0}
          tickMargin={0}
          tickLine={false}
          axisLine={{ stroke: FRAME, strokeWidth: 1.6 }}
          tick={(p: any) => <YTick {...p} side={side} />}
        />
        <ReferenceLine y={1000} stroke={FRAME} strokeWidth={1.6} />
        <ReferenceLine x={isLeft ? xDomain[1] : xDomain[0]} stroke={FRAME} strokeWidth={1.6} />
        {series.map((s, i) => (
          <Scatter key={i} data={toPoints(s)} shape={Dot} isAnimationActive={false} />
        ))}
      </ScatterChart>
    </div>
  );
}

export default function App() {
  return (
    <div style={{ position: 'absolute', left: 0, top: 0, width: 1392, height: 972, background: '#fff', fontFamily: FONT }}>
      {panelTitles.map((title, i) => (
        <div
          key={title}
          style={{
            position: 'absolute',
            left: i === 0 ? 122 : 725,
            top: 7,
            width: 575,
            height: 73,
            boxSizing: 'border-box',
            border: '1.5px solid #3a3a3a',
            borderRadius: 10,
            background: '#efefef',
            display: 'flex',
            alignItems: 'center',
            justifyContent: 'center',
            paddingLeft: i === 0 ? 26 : 0,
            paddingTop: 9,
            fontFamily: 'Lato, "Open Sans", sans-serif',
            fontSize: 46.5,
            color: '#000',
          }}
        >
          {title}
        </div>
      ))}
      {panels.map((pair, row) =>
        pair.map((series, col) => <Panel key={`${row}-${col}`} series={series} col={col} row={row} />)
      )}
      {rowLabels.map((label, row) => (
        <div
          key={label}
          style={{
            position: 'absolute',
            left: 30,
            top: ROW_TOP[row] + ROW_H / 2,
            transform: 'translate(-50%, -50%) rotate(-90deg)',
            whiteSpace: 'pre',
            fontSize: 22,
            letterSpacing: 0.5,
            color: INK,
          }}
        >
          {label}
        </div>
      ))}
      {[416, 1005].map((cx) => (
        <div
          key={cx}
          style={{
            position: 'absolute',
            left: cx,
            top: 954,
            transform: 'translate(-50%, -50%)',
            whiteSpace: 'pre',
            fontSize: 22,
            letterSpacing: 0.5,
            color: INK,
          }}
        >
          {timeLabel}
        </div>
      ))}
    </div>
  );
}
